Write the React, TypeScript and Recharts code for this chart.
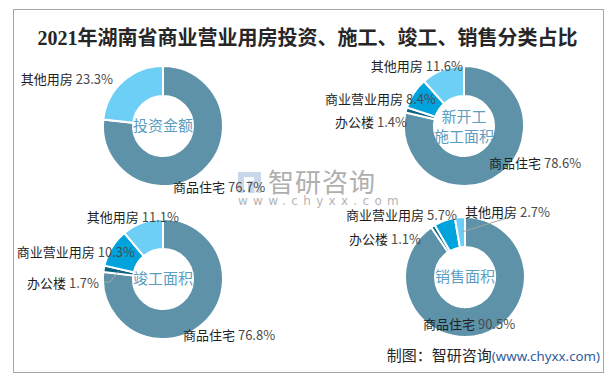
import { PieChart, Pie, Cell } from 'recharts';

// category order follows the clockwise order in every ring (starting at 12 o'clock)
const CATEGORIES = ['商品住宅', '办公楼', '商业营业用房', '其他用房'];
const INVEST_SHARE = [76.7, 0, 0, 23.3];
const NEW_START_SHARE = [78.6, 1.4, 8.4, 11.6];
const COMPLETED_SHARE = [76.8, 1.7, 10.3, 11.1];
const SALES_SHARE = [90.5, 1.1, 5.7, 2.7];
const RING_TITLES = ['投资金额', '新开工\n施工面积', '竣工面积', '销售面积'];

const TITLE = '2021年湖南省商业营业用房投资、施工、竣工、销售分类占比';

const COLORS: Record<string, string> = {
  商品住宅: '#5E92A8',
  办公楼: '#0A6482',
  商业营业用房: '#00A3DC',
  其他用房: '#6DCFF6',
};

const FONT = '"Noto Sans CJK SC", "Open Sans", sans-serif';

type LabelPos = { dx: number; dy: number; anchor: 'start' | 'end'; leader?: number[][] };

// label placement relative to each ring's centre
const LABEL_LAYOUT: Record<string, LabelPos>[] = [
  {
    商品住宅: { dx: 10, dy: 60, anchor: 'start' },
    其他用房: { dx: -50, dy: -48, anchor: 'end' },
  },
  {
    商品住宅: { dx: 25, dy: 36, anchor: 'start' },
    办公楼: { dx: -57, dy: -5, anchor: 'end' },
    商业营业用房: { dx: -28, dy: -28, anchor: 'end' },
    其他用房: { dx: -1, dy: -61, anchor: 'end' },
  },
  {
    商品住宅: { dx: 20, dy: 55, anchor: 'start' },
    办公楼: { dx: -64, dy: 3, anchor: 'end', leader: [[-59, 3], [-53, 3]] },
    商业营业用房: { dx: -28, dy: -28, anchor: 'end' },
    其他用房: { dx: 16, dy: -63, anchor: 'end' },
  },
  {
    商品住宅: { dx: -42, dy: 46, anchor: 'start' },
    办公楼: { dx: -44, dy: -39, anchor: 'end' },
    商业营业用房: { dx: -8, dy: -63, anchor: 'end' },
    其他用房: { dx: 0, dy: -66, anchor: 'start', leader: [[42, -59]] },
  },
];

const RINGS = [
  { cx: 163, cy: 126, values: INVEST_SHARE },
  { cx: 464, cy: 126, values: NEW_START_SHARE },
  { cx: 163, cy: 279, values: COMPLETED_SHARE },
  { cx: 465, cy: 277, values: SALES_SHARE },
];

const RAD = Math.PI / 180;

function makeLabel(ringIndex: number) {
  return (props: any) => {
    const { cx, cy, midAngle, innerRadius, outerRadius, name, value, index } = props;
    const pos = LABEL_LAYOUT[ringIndex][name];
    const midR = (innerRadius + outerRadius) / 2;
    const px = cx + midR * Math.cos(-midAngle * RAD);
    const py = cy + midR * Math.sin(-midAngle * RAD);
    const lines = RING_TITLES[ringIndex].split('\n');
    return (
      <g>
        {index === 0 && (
          <text
            x={cx}
            y={cy}
            textAnchor="middle"
            fontFamily={FONT}
            fontSize={15}
            fill="#5C9DC2"
          >
            {lines.map((line, i) => (
              <tspan key={i} x={cx} dy={i === 0 ? (lines.length === 1 ? 5 : -4) : 20}>
                {line}
              </tspan>
            ))}
          </text>
        )}
        {pos.leader && (
          <polyline
            points={[...pos.leader.map(([a, b]) => `${cx + a},${cy + b}`), `${px},${py}`].join(' ')}
            fill="none"
            stroke="#A6A6A6"
            strokeWidth={1}
          />
        )}
        <text
          x={cx + pos.dx}
          y={cy + pos.dy}
          textAnchor={pos.anchor}
          dominantBaseline="central"
          fontFamily={FONT}
          fontSize={13}
        >
          <tspan fill="#1F1F1F">{name} </tspan>
          <tspan fill="#4A4A4A">{value.toFixed(1)}%</tspan>
        </text>
      </g>
    );
  };
}

export default function App() {
  return (
    <div
      style={{
        position: 'absolute',
        left: 0,
        top: 0,
        width: 615,
        height: 379,
        background: '#fff',
        fontFamily: FONT,
      }}
    >
      <div
        style={{
          position: 'absolute',
          left: 13,
          top: 9,
          width: 589,
          height: 362,
          border: '1px solid #A6A6A6',
        }}
      />
      <div
        style={{
          position: 'absolute',
          left: 0,
          top: 26,
          width: 615,
          textAlign: 'center',
          fontFamily: '"Liberation Serif", "Noto Sans CJK SC", serif',
          fontWeight: 'bold',
          fontSize: 20,
          color: '#262626',
          lineHeight: '24px',
        }}
      >
        {TITLE}
      </div>
      {/* watermark */}
      <div style={{ position: 'absolute', left: 238, top: 172, width: 23, height: 21, background: '#C9D7EA' }}>
        <div style={{ position: 'absolute', left: 6, top: 5, width: 4, height: 16, background: '#fff' }} />
        <div style={{ position: 'absolute', left: 6, top: 5, width: 10, height: 4, background: '#fff' }} />
        <div style={{ position: 'absolute', left: 16, top: 10, width: 4, height: 11, background: '#E8EEF6' }} />
      </div>
      <div
        style={{
          position: 'absolute',
          left: 268,
          top: 168,
          fontSize: 26,
          lineHeight: '26px',
          color: '#AFAFAF',
          letterSpacing: 1,
        }}
      >
        智研咨询
      </div>
      <div
        style={{
          position: 'absolute',
          left: 238,
          top: 195,
          fontSize: 12,
          lineHeight: '12px',
          color: '#B5B5B5',
          letterSpacing: 5.3,
          fontFamily: '"DejaVu Sans", sans-serif',
        }}
      >
        www.chyxx.com
      </div>
      <PieChart
        width={615}
        height={379}
        margin={{ top: 0, right: 0, bottom: 0, left: 0 }}
        style={{ position: 'absolute', left: 0, top: 0 }}
      >
        {RINGS.map((ring, r) => {
          const data = CATEGORIES.map((name, i) => ({ name, value: ring.values[i] })).filter(
            (d) => d.value > 0
          );
          return (
            <Pie
              key={r}
              data={data}
              dataKey="value"
              nameKey="name"
              cx={ring.cx}
              cy={ring.cy}
              innerRadius={30}
              outerRadius={60}
              startAngle={90}
              endAngle={-270}
              stroke="#fff"
              strokeWidth={2}
              labelLine={false}
              label={makeLabel(r)}
              isAnimationActive={false}
            >
              {data.map((d) => (
                <Cell key={d.name} fill={COLORS[d.name]} />
              ))}
            </Pie>
          );
        })}
      </PieChart>
      <div
        style={{
          position: 'absolute',
          right: 15,
          top: 345,
          fontSize: 15,
          lineHeight: '20px',
          whiteSpace: 'nowrap',
        }}
      >
        <span style={{ color: '#262626' }}>制图：智研咨询</span>
        <span style={{ color: '#2F5C9C', fontSize: 13.3, fontFamily: '"Noto Sans", sans-serif' }}>(www.chyxx.com)</span>
      </div>
    </div>
  );
}
